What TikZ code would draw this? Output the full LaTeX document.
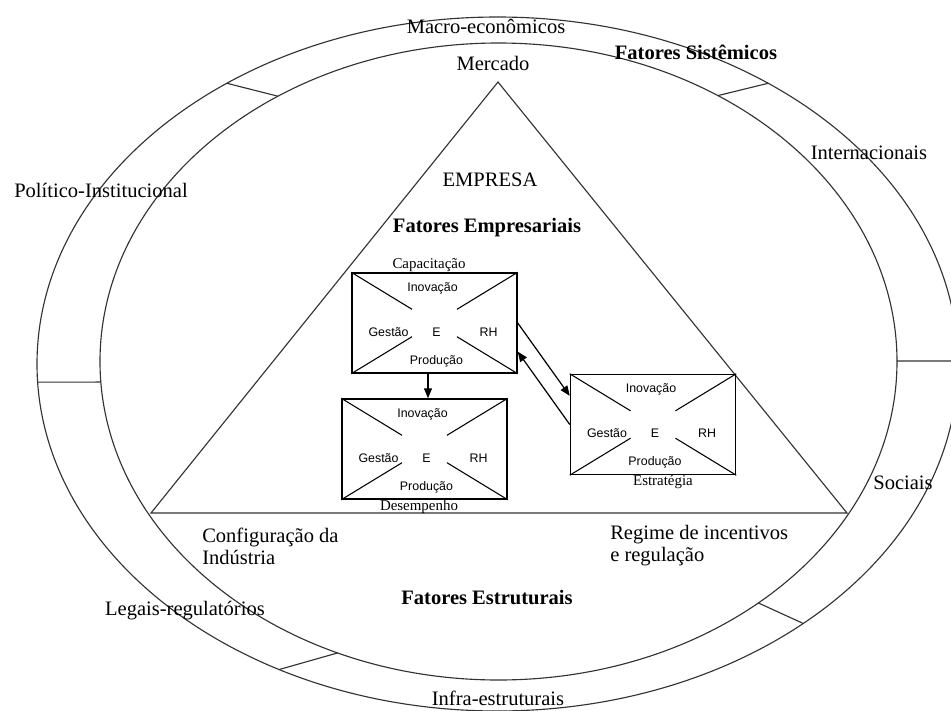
\documentclass[tikz,border=0pt]{standalone}
\usepackage{fontspec}
\setmainfont{Liberation Serif}
\newfontfamily\boxfont{Liberation Sans}
\usetikzlibrary{arrows.meta,calc}

\newcommand\crossbox[1]{%
  \foreach \cn in {north west,north east,south west,south east}
    \draw[diag] (#1.\cn) -- ($(#1.\cn)!0.73!(#1.center)$);}
\newcommand\boxtexts[1]{%
  \node[btxt] (#1i) at ($(#1.center)+(-2,-35)$) {Inovação};
  \node[btxt] (#1g) at ($(#1.center)+(-46,9)$) {Gestão};
  \node[btxt] (#1e) at ($(#1.center)+(2,9)$) {E};
  \node[btxt] (#1r) at ($(#1.center)+(54,9)$) {RH};
  \node[btxt] (#1p) at ($(#1.center)+(2,38)$) {Produção};}

\begin{document}
\begin{tikzpicture}[x=0.75pt,y=-0.75pt,
  ring/.style={draw=black!80,line width=0.85pt},
  lbl/.style={font=\fontsize{15.4}{16.5}\selectfont,inner sep=0pt},
  blbl/.style={font=\fontsize{15.4}{16.5}\selectfont\bfseries,inner sep=0pt},
  slbl/.style={font=\fontsize{11.2}{13}\selectfont,inner sep=0pt},
  btxt/.style={font=\boxfont\fontsize{9.3}{11}\selectfont,inner sep=0pt},
  fbox/.style={draw,line width=1.1pt,minimum width=123.75pt,minimum height=75pt,inner sep=0pt},
  diag/.style={line width=0.8pt},
  arr/.style={line width=0.9pt,-{Triangle[length=7.5pt,width=6pt]}}]
\useasboundingbox (0,0) rectangle (951,711);
\clip (0,0) rectangle (951,711);

% ellipses
\draw[ring] (497.5,364) ellipse [x radius=345.375pt, y radius=260.25pt];
\draw[ring] (498.5,361.5) ellipse [x radius=298.875pt, y radius=238.875pt];

% dividers between rings
\coordinate (o1) at ({497.5+460.5*cos(126)},{364-347*sin(126)});
\coordinate (i1) at ({498.5+398.5*cos(123.6)},{361.5-318.5*sin(123.6)});
\coordinate (o2) at ({497.5+460.5*cos(54)},{364-347*sin(54)});
\coordinate (i2) at ({498.5+398.5*cos(56.6)},{361.5-318.5*sin(56.6)});
\coordinate (o3) at ({497.5+460.5*cos(-118.3)},{364-347*sin(-118.3)});
\coordinate (i3) at ({498.5+398.5*cos(-113.8)},{361.5-318.5*sin(-113.8)});
\coordinate (o4) at ({497.5+460.5*cos(-48.4)},{364-347*sin(-48.4)});
\coordinate (i4) at ({498.5+398.5*cos(-49.3)},{361.5-318.5*sin(-49.3)});
\coordinate (o5) at ({497.5+460.5*cos(183)},{364-347*sin(183)});
\coordinate (i5) at ({498.5+398.5*cos(183.7)},{361.5-318.5*sin(183.7)});
\coordinate (o6) at ({497.5+460.5*cos(0.5)},{364-347*sin(0.5)});
\coordinate (i6) at ({498.5+398.5*cos(0.1)},{361.5-318.5*sin(0.1)});
\foreach \k in {1,...,6} \draw[ring] (o\k) -- (i\k);

% triangle
\coordinate (apex) at (498,82);
\coordinate (tl) at (151,513);
\coordinate (tr) at (847,513);
\draw[ring] (apex) -- (tr) -- (tl) -- cycle;

% boxes
\node[fbox] (b1) at (434.5,323) {};
\node[fbox] (b2) at (424.5,449) {};
\node[fbox] (b3) at (653,424.5) {};
\crossbox{b1}\crossbox{b2}\crossbox{b3}
\boxtexts{b1}\boxtexts{b2}\boxtexts{b3}
\node[slbl] (cap) at (429,265) {Capacitação};
\node[slbl] (des) at (419,507) {Desempenho};
\node[slbl] (est) at (663,482) {Estratégia};

% arrows
\coordinate (d1) at ($(b1.south)+(-6.5,0)$);
\draw[arr] (d1) -- (d1 |- b2.north);
\draw[arr] (b1.east) -- (b3.161);
\draw[arr] (b3.west) -- (b1.-19);

% labels
\node[lbl] (macro) at (486,26) {Macro-econômicos};
\node[blbl] (fsis) at (696,52) {Fatores Sistêmicos};
\node[lbl] (merc) at (493,63) {Mercado};
\node[lbl] (inter) at (869,153) {Internacionais};
\node[lbl] (polit) at (101,190) {Político-Institucional};
\node[lbl] (empresa) at (490,180) {EMPRESA};
\node[blbl] (femp) at (487,228) {Fatores Empresariais};
\node[lbl,anchor=west,align=left] (conf) at (202,546) {Configuração da\\Indústria};
\node[lbl,anchor=west,align=left] (reg) at (610,546) {Regime de incentivos\\e regulação};
\node[lbl] (soc) at (903,483) {Sociais};
\node[blbl] (fest) at (487,597) {Fatores Estruturais};
\node[lbl,anchor=east] (legais) at (265,611) {Legais-regulatórios};
\node[lbl] (infra) at (498,698) {Infra-estruturais};
\end{tikzpicture}
\end{document}
